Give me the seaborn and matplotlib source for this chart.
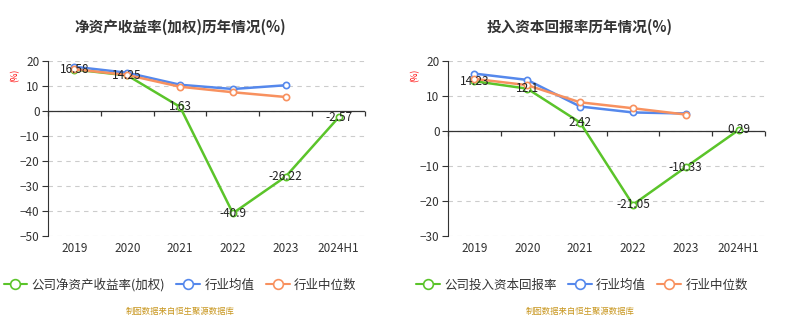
import numpy as np
import pandas as pd
import matplotlib
matplotlib.use("Agg")
import matplotlib.pyplot as plt
from matplotlib.lines import Line2D
import seaborn as sns

sns.set_theme(style="white")
plt.rcParams['font.family'] = ['Noto Sans CJK SC', 'DejaVu Sans']

categories = ["2019", "2020", "2021", "2022", "2023", "2024H1"]

# Left chart: ROE (weighted)
roe_company = [16.58, 14.25, 1.63, -40.9, -26.22, -2.57]
roe_ind_mean = [17.7, 15.3, 10.5, 8.8, 10.3, np.nan]
roe_ind_median = [16.7, 14.4, 9.7, 7.5, 5.6, np.nan]

# Right chart: ROIC
roic_company = [14.23, 12.1, 2.42, -21.05, -10.33, 0.29]
roic_ind_mean = [16.4, 14.6, 7.0, 5.3, 5.0, np.nan]
roic_ind_median = [14.9, 13.1, 8.2, 6.5, 4.7, np.nan]

titles = ["净资产收益率(加权)历年情况(%)", "投入资本回报率历年情况(%)"]
company_names = ["公司净资产收益率(加权)", "公司投入资本回报率"]
mean_name = "行业均值"
median_name = "行业中位数"
source_text = "制图数据来自恒生聚源数据库"

GREEN = "#5bc42a"
BLUE = "#5588ec"
ORANGE = "#f8915f"

W, H = 794, 330
AX_H_PX = 175
fig = plt.figure(figsize=(W / 100, H / 100), dpi=100)

panels = [
    dict(comp=roe_company, mean=roe_ind_mean, med=roe_ind_median, ylim=(-50, 20),
         left=48, title=titles[0], cname=company_names[0], tx=180, lx=180),
    dict(comp=roic_company, mean=roic_ind_mean, med=roic_ind_median, ylim=(-30, 20),
         left=448, title=titles[1], cname=company_names[1], tx=580, lx=582),
]

x = np.arange(len(categories))
for p in panels:
    ax = fig.add_axes([p['left'] / W, (H - 236) / H, 317 / W, AX_H_PX / H])
    df = pd.DataFrame({'x': x, 'comp': p['comp'], 'mean': p['mean'], 'med': p['med']})
    for col, color in [('comp', GREEN), ('mean', BLUE), ('med', ORANGE)]:
        d = df[['x', col]].dropna()
        sns.lineplot(data=d, x='x', y=col, ax=ax, color=color, linewidth=1.8,
                     marker='o', markersize=4.5, markerfacecolor='white',
                     markeredgecolor=color, markeredgewidth=1.2, sort=False, zorder=4)
    for xi, v in zip(x, p['comp']):
        ax.text(xi, v, f"{v:g}", ha='center', va='center', fontsize=8.5,
                color='#222222', zorder=6)

    ymin, ymax = p['ylim']
    ax.set_ylim(ymin, ymax)
    ax.set_xlim(-0.5, len(categories) - 0.5)
    ax.set_yticks(np.arange(ymin, ymax + 1, 10))
    ax.yaxis.grid(True, linestyle=(0, (4, 4)), color='#cccccc', linewidth=0.8)
    ax.xaxis.grid(False)
    ax.set_axisbelow(True)
    ax.set_xticks(x)
    ax.set_xticklabels(categories)
    ax.tick_params(axis='x', length=0, pad=4, labelsize=8.5, labelcolor='#333333')
    ax.tick_params(axis='y', length=4, width=0.8, color='#333333', direction='out',
                   left=True, labelsize=8.5, labelcolor='#333333', pad=2)
    ax.set_xlabel('')
    ax.set_ylabel('')
    for s in ['top', 'right', 'bottom']:
        ax.spines[s].set_visible(False)
    ax.spines['left'].set_color('#333333')
    ax.spines['left'].set_linewidth(0.8)
    # category axis at zero with boundary ticks
    ax.axhline(0, color='#333333', linewidth=0.9, zorder=2)
    tick_len = 4.5 * (ymax - ymin) / AX_H_PX
    ax.vlines(np.arange(-0.5, len(categories), 1.0), -tick_len, 0,
              colors='#333333', linewidth=0.9, zorder=2, clip_on=False)

    fig.text((p['left'] - 33) / W, (H - 75) / H, "(%)", color='red', fontsize=6,
             rotation=90, ha='center', va='center')
    fig.text(p['tx'] / W, (H - 27) / H, p['title'], ha='center', va='center',
             fontsize=10.5, fontweight='bold', color='#333333')

    handles = [
        Line2D([0], [0], color=c, lw=1.5, marker='o', markersize=7,
               markerfacecolor='white', markeredgecolor=c, markeredgewidth=1.2)
        for c in (GREEN, BLUE, ORANGE)
    ]
    fig.legend(handles, [p['cname'], mean_name, median_name], loc='center',
               bbox_to_anchor=(p['lx'] / W, (H - 285) / H), ncol=3, frameon=False,
               fontsize=9, handlelength=1.9, handletextpad=0.35, columnspacing=0.9,
               labelcolor='#333333')
    fig.text(p['tx'] / W, (H - 311) / H, source_text, ha='center', va='center',
             fontsize=6, color='#c8961e')

fig.savefig("out.png", dpi=100)
